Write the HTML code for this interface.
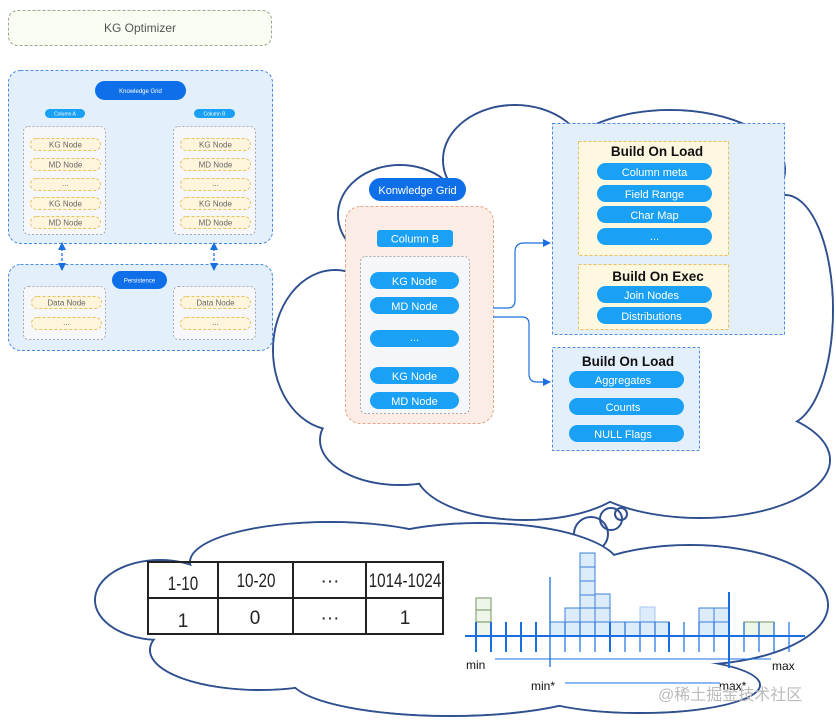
<!DOCTYPE html>
<html><head><meta charset="utf-8"><style>
html,body{margin:0;padding:0;background:#fff;width:836px;height:726px;overflow:hidden}
svg text{font-family:"Liberation Sans",Arial,sans-serif}
</style></head><body>
<svg width="836" height="726" viewBox="0 0 836 726" xmlns="http://www.w3.org/2000/svg">
<defs>
<marker id="ar" markerWidth="8" markerHeight="8" refX="7" refY="4" orient="auto" markerUnits="userSpaceOnUse"><path d="M0,0 L8,4 L0,8 Z" fill="#1a6fe0"/></marker>
<marker id="ar2" markerWidth="8" markerHeight="8" refX="7" refY="4" orient="auto-start-reverse" markerUnits="userSpaceOnUse"><path d="M0,0 L8,4 L0,8 Z" fill="#1a6fe0"/></marker>
</defs>

<!-- upper cloud -->
<g fill="#fff" stroke="#2f4f8f" stroke-width="2">
<ellipse cx="400" cy="215" rx="62" ry="50"/>
<ellipse cx="515" cy="160" rx="72" ry="55"/>
<ellipse cx="670" cy="170" rx="115" ry="60"/>
<ellipse cx="785" cy="310" rx="48" ry="115"/>
<ellipse cx="700" cy="460" rx="130" ry="58"/>
<ellipse cx="525" cy="470" rx="110" ry="50"/>
<ellipse cx="335" cy="350" rx="62" ry="80"/>
<ellipse cx="400" cy="440" rx="80" ry="45"/>
</g>
<g fill="#fff">
<ellipse cx="400" cy="215" rx="61" ry="49"/>
<ellipse cx="515" cy="160" rx="71" ry="54"/>
<ellipse cx="670" cy="170" rx="114" ry="59"/>
<ellipse cx="785" cy="310" rx="47" ry="114"/>
<ellipse cx="700" cy="460" rx="129" ry="57"/>
<ellipse cx="525" cy="470" rx="109" ry="49"/>
<ellipse cx="335" cy="350" rx="61" ry="79"/>
<ellipse cx="400" cy="440" rx="79" ry="44"/>
<ellipse cx="565" cy="320" rx="200" ry="150"/>
<ellipse cx="660" cy="330" rx="150" ry="130"/>
<ellipse cx="740" cy="350" rx="70" ry="90"/>
</g>
<g fill="none" stroke="#2f4f8f" stroke-width="2">
<circle cx="591" cy="534" r="17"/><circle cx="611" cy="519" r="11"/><circle cx="621" cy="514" r="6"/>
</g>
<!-- bottom cloud -->
<g fill="#fff" stroke="#2f4f8f" stroke-width="2">
<ellipse cx="160" cy="600" rx="65" ry="40"/>
<ellipse cx="330" cy="562" rx="140" ry="40"/>
<ellipse cx="480" cy="568" rx="140" ry="45"/>
<ellipse cx="690" cy="605" rx="138" ry="60"/>
<ellipse cx="260" cy="650" rx="110" ry="40"/>
<ellipse cx="450" cy="678" rx="160" ry="38"/>
<ellipse cx="640" cy="685" rx="120" ry="28"/>
</g>
<g fill="#fff">
<ellipse cx="160" cy="600" rx="64" ry="39"/>
<ellipse cx="330" cy="562" rx="139" ry="39"/>
<ellipse cx="480" cy="568" rx="139" ry="44"/>
<ellipse cx="690" cy="605" rx="137" ry="59"/>
<ellipse cx="260" cy="650" rx="109" ry="39"/>
<ellipse cx="450" cy="678" rx="159" ry="37"/>
<ellipse cx="640" cy="685" rx="119" ry="27"/>
<ellipse cx="450" cy="620" rx="270" ry="55"/>
<ellipse cx="250" cy="605" rx="100" ry="40"/>
</g>

<!-- left panel -->
<rect x="8.5" y="10.5" width="263" height="35" rx="9" fill="#f8fcf3" stroke="#9aa88a" stroke-dasharray="3,2"/>
<text x="140" y="32" font-size="12" fill="#555" text-anchor="middle">KG Optimizer</text>

<rect x="8.5" y="70.5" width="264" height="173" rx="12" fill="#e3f0fc" stroke="#4a8be0" stroke-dasharray="3,2"/>
<rect x="95" y="81" width="91" height="19" rx="9.5" fill="#0f6fe8"/>
<text x="140.5" y="93" font-size="6" fill="#fff" text-anchor="middle">Knowledge Grid</text>
<rect x="45" y="109" width="40" height="9" rx="4.5" fill="#1aa0f5"/>
<text x="65" y="115.5" font-size="5" fill="#fff" text-anchor="middle">Column A</text>
<rect x="194" y="109" width="41" height="9" rx="4.5" fill="#1aa0f5"/>
<text x="214.5" y="115.5" font-size="5" fill="#fff" text-anchor="middle">Column B</text>
<rect x="23.5" y="126.5" width="82" height="108" rx="5" fill="#f5f7fa" stroke="#aaa" stroke-dasharray="2,2"/>
<rect x="173.5" y="126.5" width="82" height="108" rx="5" fill="#f5f7fa" stroke="#aaa" stroke-dasharray="2,2"/>
<g fill="#fff5dc" stroke="#e8c25e" stroke-dasharray="3,2">
<rect x="30.5" y="138.5" width="70" height="12" rx="6"/><rect x="30.5" y="158.5" width="70" height="12" rx="6"/><rect x="30.5" y="178.5" width="70" height="12" rx="6"/><rect x="30.5" y="197.5" width="70" height="12" rx="6"/><rect x="30.5" y="216.5" width="70" height="12" rx="6"/>
<rect x="180.5" y="138.5" width="70" height="12" rx="6"/><rect x="180.5" y="158.5" width="70" height="12" rx="6"/><rect x="180.5" y="178.5" width="70" height="12" rx="6"/><rect x="180.5" y="197.5" width="70" height="12" rx="6"/><rect x="180.5" y="216.5" width="70" height="12" rx="6"/>
</g>
<g font-size="8" fill="#666" text-anchor="middle">
<text x="65.5" y="147.5">KG Node</text><text x="65.5" y="167.5">MD Node</text><text x="65.5" y="186">...</text><text x="65.5" y="206.5">KG Node</text><text x="65.5" y="225.5">MD Node</text>
<text x="215.5" y="147.5">KG Node</text><text x="215.5" y="167.5">MD Node</text><text x="215.5" y="186">...</text><text x="215.5" y="206.5">KG Node</text><text x="215.5" y="225.5">MD Node</text>
</g>

<rect x="8.5" y="264.5" width="264" height="86" rx="12" fill="#e3f0fc" stroke="#4a8be0" stroke-dasharray="3,2"/>
<rect x="23.5" y="286.5" width="82" height="53" rx="5" fill="#f5f7fa" stroke="#aaa" stroke-dasharray="2,2"/>
<rect x="173.5" y="286.5" width="82" height="53" rx="5" fill="#f5f7fa" stroke="#aaa" stroke-dasharray="2,2"/>
<g fill="#fff5dc" stroke="#e8c25e" stroke-dasharray="3,2">
<rect x="31.5" y="296.5" width="70" height="12" rx="6"/><rect x="31.5" y="317.5" width="70" height="12" rx="6"/>
<rect x="180.5" y="296.5" width="70" height="12" rx="6"/><rect x="180.5" y="317.5" width="70" height="12" rx="6"/>
</g>
<g font-size="8" fill="#666" text-anchor="middle">
<text x="66.5" y="305.5">Data Node</text><text x="66.5" y="325">...</text><text x="215.5" y="305.5">Data Node</text><text x="215.5" y="325">...</text>
</g>
<rect x="112" y="271" width="55" height="18" rx="9" fill="#0f6fe8"/>
<text x="139.5" y="282.5" font-size="6" fill="#fff" text-anchor="middle">Persistence</text>
<g stroke="#1a6fe0" stroke-width="1.3" stroke-dasharray="3,2">
<line x1="62" y1="243" x2="62" y2="270" marker-start="url(#ar2)" marker-end="url(#ar)"/>
<line x1="214" y1="243" x2="214" y2="270" marker-start="url(#ar2)" marker-end="url(#ar)"/>
</g>

<!-- center -->
<rect x="369" y="178" width="97" height="23" rx="11.5" fill="#0f6fe8"/>
<text x="417.5" y="194" font-size="11" fill="#fff" text-anchor="middle">Konwledge Grid</text>
<rect x="345.5" y="206.5" width="148" height="217" rx="15" fill="#fbede6" stroke="#e6a488" stroke-dasharray="3,2"/>
<rect x="377" y="230" width="76" height="17" rx="3" fill="#1aa0f5"/>
<text x="415" y="242.5" font-size="11" fill="#fff" text-anchor="middle">Column B</text>
<rect x="360.5" y="256.5" width="109" height="157" rx="5" fill="#f4f6f9" stroke="#aaa" stroke-dasharray="2,2"/>
<g fill="#1aa0f5">
<rect x="370" y="272" width="89" height="17" rx="8.5"/><rect x="370" y="297" width="89" height="17" rx="8.5"/><rect x="370" y="330" width="89" height="17" rx="8.5"/><rect x="370" y="367" width="89" height="17" rx="8.5"/><rect x="370" y="392" width="89" height="17" rx="8.5"/>
</g>
<g font-size="11" fill="#fff" text-anchor="middle">
<text x="414.5" y="285">KG Node</text><text x="414.5" y="310">MD Node</text><text x="414.5" y="341">...</text><text x="414.5" y="380">KG Node</text><text x="414.5" y="405">MD Node</text>
</g>
<g fill="none" stroke="#1a6fe0" stroke-width="1.2">
<path d="M493,308 H508 Q515,308 515,300 V252 Q515,243 524,243 H550" marker-end="url(#ar)"/>
<path d="M493,317 H522 Q529,317 529,324 V374 Q529,382 537,382 H550" marker-end="url(#ar)"/>
</g>

<!-- right boxes -->
<rect x="552.5" y="123.5" width="232" height="211" fill="#e3f0fc" stroke="#4a8be0" stroke-dasharray="3,2"/>
<rect x="578.5" y="141.5" width="150" height="114" fill="#fff8e1" stroke="#e8c25e" stroke-dasharray="3,2"/>
<rect x="578.5" y="264.5" width="150" height="65" fill="#fff8e1" stroke="#e8c25e" stroke-dasharray="3,2"/>
<rect x="552.5" y="347.5" width="147" height="103" fill="#e3f0fc" stroke="#4a8be0" stroke-dasharray="3,2"/>
<g font-size="13.5" font-weight="bold" fill="#111" text-anchor="middle">
<text x="657" y="156">Build On Load</text><text x="658" y="281">Build On Exec</text><text x="628" y="366">Build On Load</text>
</g>
<g fill="#1aa0f5">
<rect x="597" y="163" width="115" height="17" rx="8.5"/><rect x="597" y="185" width="115" height="17" rx="8.5"/><rect x="597" y="206" width="115" height="17" rx="8.5"/><rect x="597" y="228" width="115" height="17" rx="8.5"/>
<rect x="597" y="286" width="115" height="17" rx="8.5"/><rect x="597" y="307" width="115" height="17" rx="8.5"/>
<rect x="569" y="371" width="115" height="17" rx="8.5"/><rect x="569" y="398" width="115" height="17" rx="8.5"/><rect x="569" y="425" width="115" height="17" rx="8.5"/>
</g>
<g font-size="11" fill="#fff" text-anchor="middle">
<text x="654.5" y="176">Column meta</text><text x="654.5" y="198">Field Range</text><text x="654.5" y="219">Char Map</text><text x="654.5" y="240">...</text>
<text x="651.5" y="299">Join Nodes</text><text x="651.5" y="320">Distributions</text>
<text x="623" y="384">Aggregates</text><text x="623" y="411">Counts</text><text x="623" y="438">NULL Flags</text>
</g>

<!-- table -->
<g stroke="#222" stroke-width="2" fill="none">
<rect x="148" y="562" width="295" height="72"/>
<line x1="148" y1="598" x2="443" y2="598"/>
<line x1="218" y1="562" x2="218" y2="634"/><line x1="293" y1="562" x2="293" y2="634"/><line x1="366" y1="562" x2="366" y2="634"/>
</g>
<g font-size="19" fill="#222" text-anchor="middle" font-family="Liberation Sans Narrow, Liberation Sans, sans-serif">
<text x="183" y="590" transform="translate(183,0) scale(0.8,1) translate(-183,0)">1-10</text>
<text x="256" y="587" transform="translate(256,0) scale(0.8,1) translate(-256,0)">10-20</text>
<text x="330" y="587">···</text>
<text x="405" y="587" transform="translate(405,0) scale(0.8,1) translate(-405,0)">1014-1024</text>
<text x="183" y="627">1</text><text x="255" y="624">0</text><text x="330" y="624">···</text><text x="405" y="624">1</text>
</g>

<!-- histogram -->
<g stroke="#8aa57a" stroke-width="1.2" fill="#eef6ea">
<rect x="476" y="598" width="15" height="12"/><rect x="476" y="610" width="15" height="12"/><rect x="476" y="622" width="15" height="14"/>
<rect x="744" y="622" width="15" height="14"/><rect x="759" y="622" width="15" height="14"/>
</g>
<g stroke="#3a7fd8" stroke-width="1" fill="#ddecfa">
<rect x="550" y="622" width="15" height="14"/>
<rect x="565" y="608" width="15" height="14"/><rect x="565" y="622" width="15" height="14"/>
<rect x="580" y="553" width="15" height="14"/><rect x="580" y="567" width="15" height="14"/><rect x="580" y="581" width="15" height="14"/><rect x="580" y="595" width="15" height="13"/><rect x="580" y="608" width="15" height="14"/><rect x="580" y="622" width="15" height="14"/>
<rect x="595" y="594" width="15" height="14"/><rect x="595" y="608" width="15" height="14"/><rect x="595" y="622" width="15" height="14"/>
<rect x="610" y="622" width="15" height="14"/><rect x="625" y="622" width="15" height="14"/>
<rect x="640" y="607" width="15" height="15" stroke="#a9c8ee"/><rect x="640" y="622" width="15" height="14"/>
<rect x="655" y="622" width="14" height="14"/>
<rect x="699" y="608" width="15" height="14"/><rect x="699" y="622" width="15" height="14"/>
<rect x="714" y="608" width="15" height="14"/><rect x="714" y="622" width="15" height="14"/>
</g>
<g stroke="#1a6fe0" stroke-width="2">
<line x1="465" y1="636" x2="805" y2="636"/>
<line x1="476" y1="622" x2="476" y2="652"/><line x1="491" y1="622" x2="491" y2="652"/><line x1="506" y1="622" x2="506" y2="652"/><line x1="521" y1="622" x2="521" y2="652"/><line x1="536" y1="622" x2="536" y2="652"/>
<line x1="565" y1="622" x2="565" y2="652" stroke-width="1.2"/><line x1="580" y1="622" x2="580" y2="652" stroke-width="1.2"/><line x1="595" y1="622" x2="595" y2="652" stroke-width="1.2"/><line x1="610" y1="622" x2="610" y2="652"/><line x1="625" y1="622" x2="625" y2="652" stroke-width="1.2"/><line x1="640" y1="622" x2="640" y2="652" stroke-width="1.2"/><line x1="655" y1="622" x2="655" y2="652" stroke-width="1.2"/><line x1="669" y1="622" x2="669" y2="652"/><line x1="684" y1="622" x2="684" y2="652" stroke-width="1.2"/><line x1="699" y1="622" x2="699" y2="652" stroke-width="1.2"/><line x1="714" y1="622" x2="714" y2="652" stroke-width="1.2"/>
<line x1="744" y1="622" x2="744" y2="652" stroke-width="1.2"/><line x1="759" y1="622" x2="759" y2="652" stroke-width="1.2"/><line x1="774" y1="622" x2="774" y2="652" stroke-width="1.2"/><line x1="789" y1="622" x2="789" y2="652" stroke-width="1.2"/>
<line x1="550" y1="577" x2="550" y2="667" stroke-width="1.3"/>
<line x1="729" y1="592" x2="729" y2="668"/>
<line x1="495" y1="659" x2="771" y2="659" stroke-width="1"/>
<line x1="565" y1="683" x2="720" y2="683" stroke-width="1"/>
</g>
<g font-size="12" fill="#111" font-family="DejaVu Sans, sans-serif">
<text x="466" y="669">min</text><text x="772" y="670">max</text><text x="531" y="690">min*</text><text x="719" y="690">max*</text>
</g>
<text x="658" y="700" font-size="16" fill="#bbb" font-family="'Liberation Sans','Noto Sans CJK SC',sans-serif">@稀土掘金技术社区</text>
</svg>
</body></html>
